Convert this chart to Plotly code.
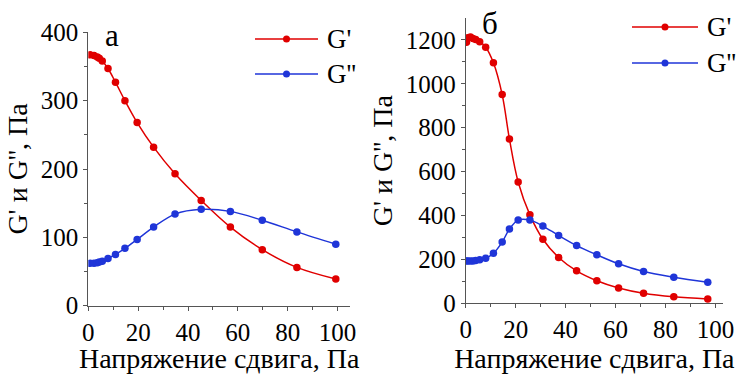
import plotly.graph_objects as go

# ---- data ----
left_x = [0.7, 2.3, 3.6, 4.4, 5.6, 7.9, 10.9, 14.7, 19.6, 26.2, 34.8, 45.3, 57.0, 69.8, 83.7, 99.3]
left_gp = [367, 366, 364, 362, 358, 347, 327, 300, 268, 232, 193, 154, 115, 82, 56, 39]
left_gpp = [62, 62, 63, 64, 65, 69, 75, 84, 97, 115, 134, 141, 138, 125, 108, 90]

right_x = [0.3, 0.9, 1.9, 2.9, 4.0, 5.6, 8.0, 11.1, 14.6, 17.5, 21.0, 25.7, 30.9, 37.2, 44.4, 52.5, 61.2, 71.2, 83.3, 96.9]
right_gp = [1190, 1210, 1213, 1207, 1202, 1192, 1167, 1096, 951, 749, 553, 403, 292, 209, 148, 103, 70, 46, 30, 20]
right_gpp = [193, 193, 193, 193, 195, 198, 205, 228, 279, 338, 379, 379, 352, 309, 263, 221, 180, 145, 119, 96]

series_names = ["G'", "G''"]
panel_labels = ["а", "б"]
x_title = "Напряжение сдвига, Па"
y_title = "G' и G'', Па"

RED = "#e00000"
BLUE = "#1f35d8"
FONT = "Liberation Serif, Times New Roman, DejaVu Serif, serif"

fig = go.Figure()

def add(x, y, color, name, xa, ya):
    fig.add_trace(go.Scatter(
        x=x, y=y, mode="lines+markers", name=name, showlegend=False,
        line=dict(color=color, width=1.5, shape="spline", smoothing=1.0),
        marker=dict(color=color, size=7.5),
        xaxis=xa, yaxis=ya))

add(left_x, left_gp, RED, series_names[0], "x", "y")
add(left_x, left_gpp, BLUE, series_names[1], "x", "y")
add(right_x, right_gp, RED, series_names[0], "x2", "y2")
add(right_x, right_gpp, BLUE, series_names[1], "x2", "y2")

W, H = 745, 374
axcol = "#555555"
tickfont = dict(family=FONT, size=25, color="black")
titlefont = dict(family=FONT, size=28, color="black")

common_x = dict(showgrid=False, zeroline=False, showline=True, linecolor=axcol, linewidth=1,
                automargin=False,
                ticks="outside", ticklen=4, tickcolor=axcol, tickfont=tickfont,
                tickmode="array", tickvals=[0, 20, 40, 60, 80, 100],
                minor=dict(ticks="outside", ticklen=3, tickcolor=axcol, tickvals=[10, 30, 50, 70, 90]),
                title=dict(text=x_title, font=titlefont, standoff=6))
common_y = dict(showgrid=False, zeroline=False, showline=True, linecolor=axcol, linewidth=1,
                automargin=False,
                ticks="outside", ticklen=4, tickcolor=axcol, tickfont=tickfont,
                title=dict(text=y_title, font=titlefont, standoff=4))

fig.update_layout(
    width=W, height=H,
    margin=dict(l=0, r=0, t=0, b=0, autoexpand=False),
    paper_bgcolor="white", plot_bgcolor="white",
    font=dict(family=FONT),
    xaxis=dict(common_x, domain=[88.3 / W, 350 / W], range=[0, 105], anchor="y"),
    yaxis=dict(common_y, domain=[1 - 305.7 / H, 1 - 32.3 / H], range=[0, 400], anchor="x",
               tickvals=[0, 100, 200, 300, 400],
               minor=dict(ticks="outside", ticklen=3, tickcolor=axcol, tickvals=[50, 150, 250, 350])),
    xaxis2=dict(common_x, domain=[465.7 / W, 723 / W], range=[0, 103], anchor="y2"),
    yaxis2=dict(common_y, domain=[1 - 303.3 / H, 1 - 18 / H], range=[0, 1300], anchor="x2",
                tickvals=[0, 200, 400, 600, 800, 1000, 1200],
                minor=dict(ticks="outside", ticklen=3, tickcolor=axcol,
                           tickvals=[100, 300, 500, 700, 900, 1100])),
    showlegend=False,
)

# panel letters
fig.add_annotation(text=panel_labels[0], x=112 / W, y=1 - 36 / H, xref="paper", yref="paper",
                   xanchor="center", yanchor="middle",
                   showarrow=False, font=dict(family=FONT, size=31, color="black"))
fig.add_annotation(text=panel_labels[1], x=490 / W, y=1 - 23 / H, xref="paper", yref="paper",
                   xanchor="center", yanchor="middle",
                   showarrow=False, font=dict(family=FONT, size=31, color="black"))

# manual legends (long line samples like the original)
legend_specs = [
    (255, 318, 325, [39, 74]),
    (632, 698, 705, [27, 63]),
]
for x0, x1, xt, ys in legend_specs:
    for name, color, yy in zip(series_names, [RED, BLUE], ys):
        fig.add_shape(type="line", xref="paper", yref="paper",
                      x0=x0 / W, x1=x1 / W, y0=1 - yy / H, y1=1 - yy / H,
                      line=dict(color=color, width=1.5))
        xm = (x0 + x1) / 2
        fig.add_shape(type="circle", xref="paper", yref="paper",
                      x0=(xm - 3.5) / W, x1=(xm + 3.5) / W, y0=1 - (yy + 3.5) / H, y1=1 - (yy - 3.5) / H,
                      fillcolor=color, line=dict(color=color, width=0))
        fig.add_annotation(text=name, x=xt / W, y=1 - yy / H, xref="paper", yref="paper",
                           xanchor="left", yanchor="middle", showarrow=False,
                           font=dict(family=FONT, size=27, color="black"))

fig.write_html("out.html", config={"displayModeBar": False},
               post_script="document.body.style.margin='0';document.body.style.padding='0';")
